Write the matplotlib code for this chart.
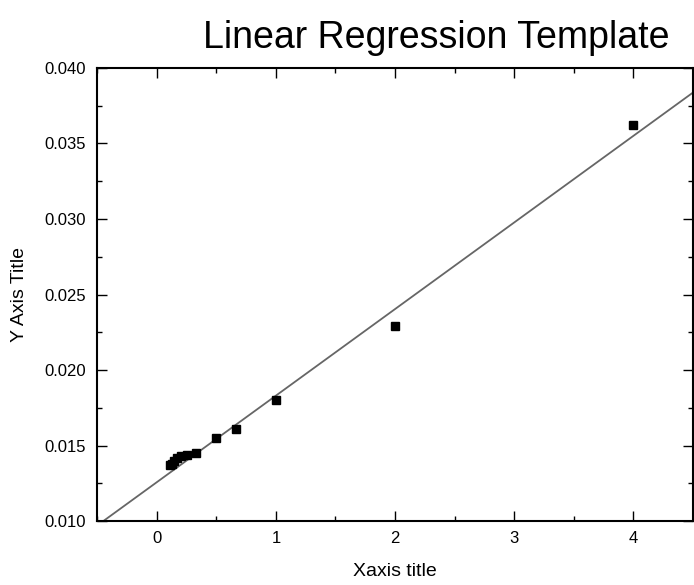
import matplotlib
matplotlib.use("Agg")
import matplotlib.pyplot as plt
from matplotlib.ticker import MultipleLocator, FormatStrFormatter

plt.rcParams['font.family'] = ['Liberation Sans', 'DejaVu Sans']

# measured data points
x_vals = [0.111, 0.125, 0.143, 0.167, 0.2, 0.25, 0.333, 0.5, 0.667, 1.0, 2.0, 4.0]
y_vals = [0.0137, 0.0138, 0.0140, 0.0142, 0.0143, 0.0144, 0.0145, 0.0155, 0.0161, 0.0180, 0.0229, 0.0362]

# regression line
fit_x = [-0.5, 4.5]
fit_intercept = 0.01258
fit_slope = 0.00573
fit_y = [fit_intercept + fit_slope * v for v in fit_x]

fig = plt.figure(figsize=(6.94, 5.85), dpi=100)
ax = fig.add_axes([0.14, 0.109, 0.8585, 0.775])

ax.plot(fit_x, fit_y, color='#666666', linewidth=1.3, zorder=2)
ax.plot(x_vals, y_vals, 's', color='black', markersize=6, zorder=3)

ax.set_xlim(-0.5, 4.5)
ax.set_ylim(0.010, 0.040)
ax.xaxis.set_major_locator(MultipleLocator(1))
ax.xaxis.set_minor_locator(MultipleLocator(0.5))
ax.yaxis.set_major_locator(MultipleLocator(0.005))
ax.yaxis.set_minor_locator(MultipleLocator(0.0025))
ax.yaxis.set_major_formatter(FormatStrFormatter('%.3f'))

ax.tick_params(which='both', direction='in', top=True, right=True, labelsize=12)
ax.tick_params(which='major', length=7, width=1)
ax.tick_params(which='minor', length=3.5, width=1)
ax.tick_params(axis='x', pad=7)
ax.tick_params(axis='y', pad=8)
for s in ax.spines.values():
    s.set_linewidth(1.5)

ax.set_xlabel('Xaxis title', fontsize=14, labelpad=12)
ax.set_ylabel('Y Axis Title', fontsize=14, labelpad=12)
fig.text(0.628, 0.935, 'Linear Regression Template', fontsize=27, ha='center', va='center')

fig.savefig('out.png', dpi=100)
